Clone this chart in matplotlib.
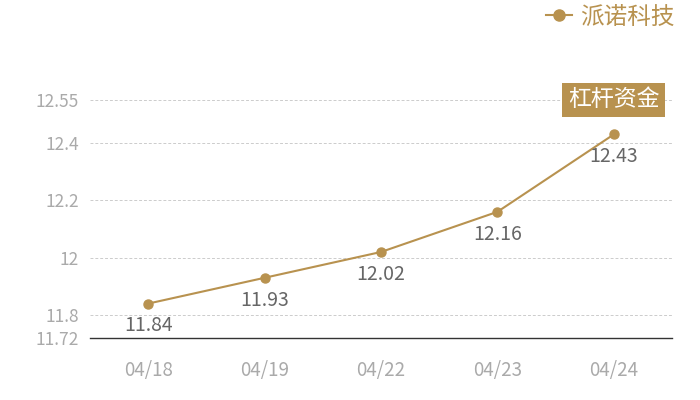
import matplotlib
matplotlib.use('Agg')
import matplotlib.pyplot as plt
from matplotlib.lines import Line2D

plt.rcParams['font.family'] = ['Noto Sans CJK SC', 'DejaVu Sans']

# data
dates = ['04/18', '04/19', '04/22', '04/23', '04/24']
values = [11.84, 11.93, 12.02, 12.16, 12.43]
y_ticks = [11.72, 11.8, 12, 12.2, 12.4, 12.55]
y_tick_labels = ['11.72', '11.8', '12', '12.2', '12.4', '12.55']
series_name = '派诺科技'
tag_text = '杠杆资金'

GOLD = '#b8924f'

fig = plt.figure(figsize=(7, 4), dpi=100)
ax = fig.add_axes([90 / 700, 62 / 400, 582 / 700, 238 / 400])

x = list(range(len(dates)))
ax.plot(x, values, color=GOLD, linewidth=1.5, marker='o', markersize=6.5,
        markerfacecolor=GOLD, markeredgecolor=GOLD, zorder=3)

for xi, v in zip(x, values):
    ax.annotate(f'{v:.2f}', (xi, v), xytext=(0, -16), textcoords='offset points',
                ha='center', va='center', fontsize=14, color='#666666')

ax.set_xlim(-0.5, len(dates) - 0.5)
ax.set_ylim(y_ticks[0], y_ticks[-1])
ax.set_xticks(x)
ax.set_xticklabels(dates)
ax.set_yticks(y_ticks)
ax.set_yticklabels(y_tick_labels)
ax.tick_params(axis='both', length=0, labelsize=12.5, labelcolor='#aaaaaa')
ax.tick_params(axis='x', labelsize=13.5, pad=16)
ax.tick_params(axis='y', pad=8)

for t in y_ticks[1:]:
    ax.axhline(t, color='#cccccc', linewidth=0.7, linestyle=(0, (3, 2)), zorder=1)

for side in ['top', 'right', 'left']:
    ax.spines[side].set_visible(False)
ax.spines['bottom'].set_color('#333333')
ax.spines['bottom'].set_linewidth(1)

# tag on the top gridline
ax.text(x[-1], y_ticks[-1], tag_text, ha='center', va='center', fontsize=16.5,
        color='white', zorder=4,
        bbox=dict(boxstyle='square,pad=0.25', facecolor=GOLD, edgecolor='none'))

# legend
handle = Line2D([0], [0], color=GOLD, linewidth=1.5, marker='o', markersize=8,
                markerfacecolor=GOLD, markeredgecolor=GOLD)
leg = fig.legend([handle], [series_name], loc='center left',
                 bbox_to_anchor=(546 / 700, 1 - 17 / 400), frameon=False,
                 borderpad=0, borderaxespad=0,
                 fontsize=17, handlelength=1.1, handletextpad=0.35)
for txt in leg.get_texts():
    txt.set_color(GOLD)

fig.savefig('out.png', dpi=100)
